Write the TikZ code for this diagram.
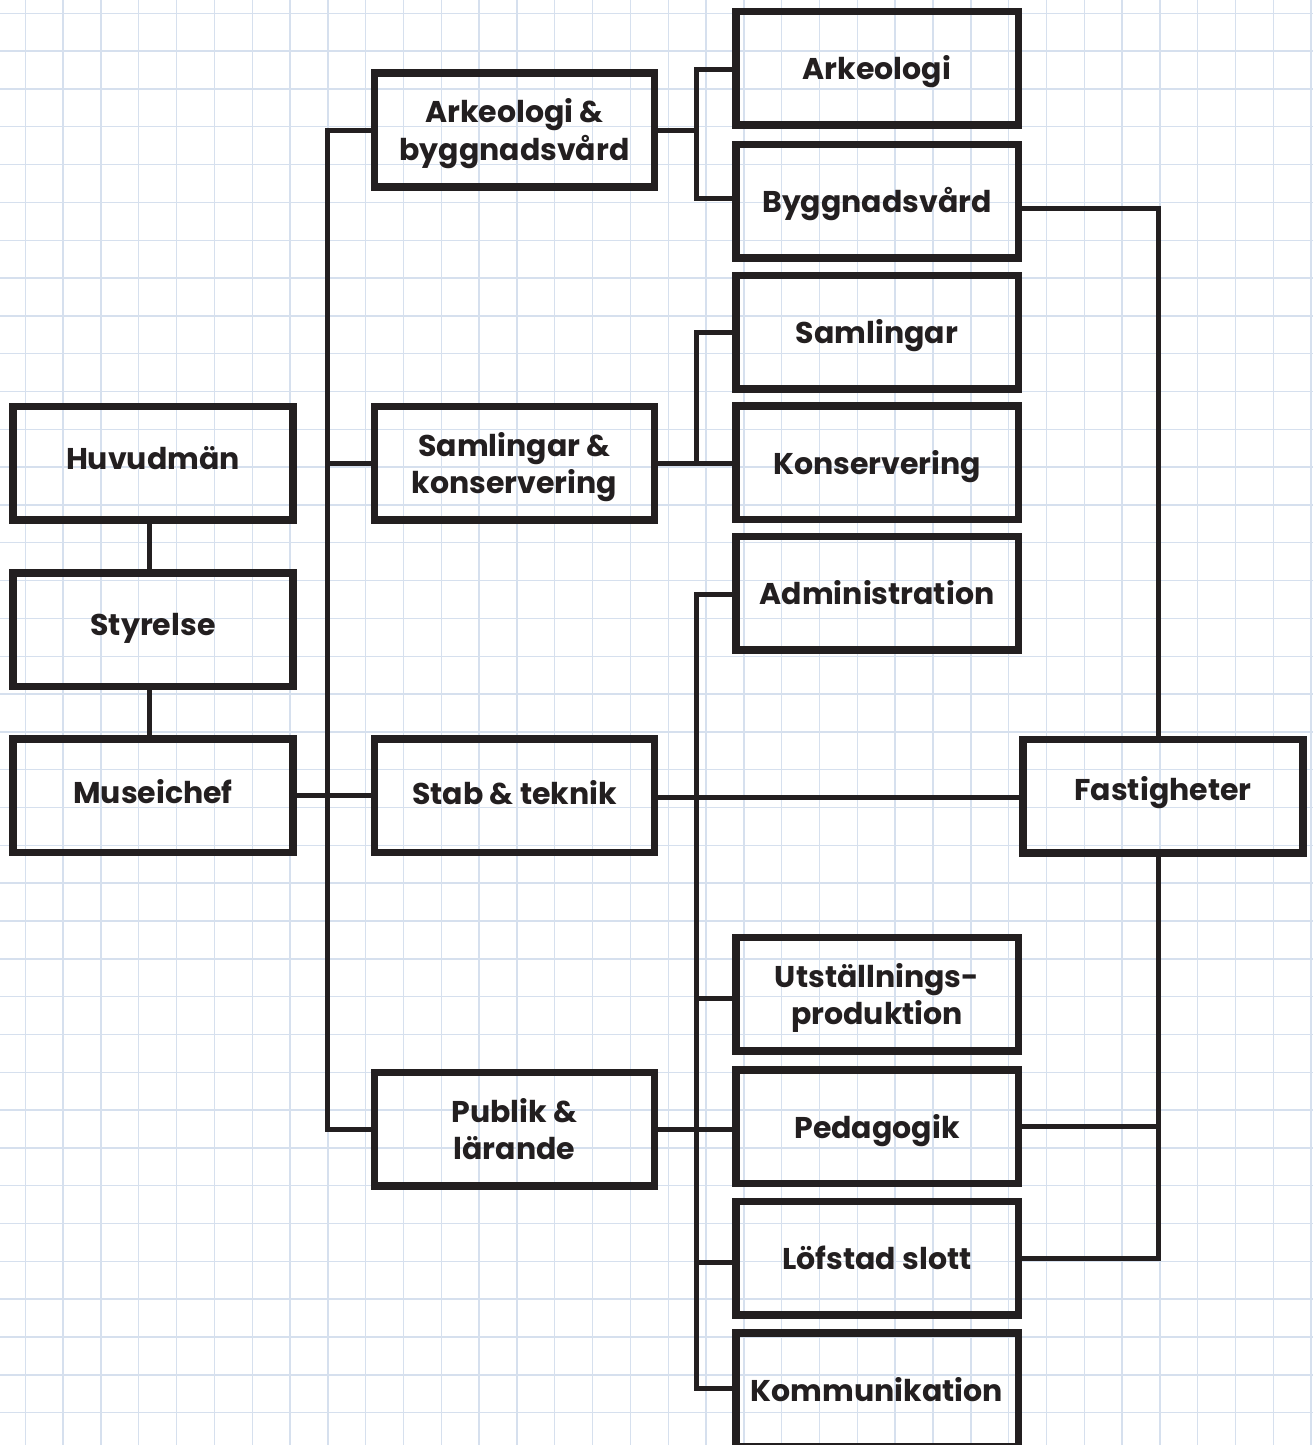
\documentclass[tikz,border=0pt]{standalone}
\usepackage{fontspec}
\setmainfont{Poppins}
\definecolor{ink}{RGB}{35,31,32}
\definecolor{gridc}{RGB}{214,224,238}
\tikzset{
  box/.style={draw=ink, line width=7.5pt, minimum width=280pt, minimum height=113.5pt,
    inner sep=0pt, text=ink, font=\fontsize{30}{37.6}\selectfont\bfseries,
    text height=23pt, text depth=0pt},
  box2/.style={box, align=center, text height=60.6pt, text depth=0pt},
  rbox/.style={box, minimum width=282.5pt},
  rbox2/.style={box2, minimum width=282.5pt},
  lift/.style={text depth=#1},
  conn/.style={draw=ink, line width=5pt},
  gridline/.style={draw=gridc, line width=1.4pt}
}
\begin{document}
\begin{tikzpicture}[x=1pt,y=-1pt]
\useasboundingbox (0,0) rectangle (1313,1445);
\clip (0,0) rectangle (1313,1445);
\fill[white] (0,0) rectangle (1313,1445);
% grid
\foreach \k in {0,...,34} \draw[gridline] ({25.3+37.82*\k},0) -- ({25.3+37.82*\k},1445);
\foreach \k in {0,...,37} \draw[gridline] (0,{13.3+37.82*\k}) -- (1313,{13.3+37.82*\k});
% trunk coordinates
\coordinate (t1) at (327.5,0);
\coordinate (t2) at (696.5,0);
\coordinate (t3) at (1158,0);
\coordinate (t0) at (149.2,0);
% left column
\node[box, lift=10pt] (huv) at (153,463.2) {Huvudmän};
\node[box, lift=12pt] (sty) at (153,629.5) {Styrelse};
\node[box, lift=8pt] (mus) at (153,795.5) {Museichef};
% middle column
\node[box2] (ab) at (514.5,130) {Arkeologi \&\\byggnadsvård};
\node[box2] (sk) at (514.5,463.3) {Samlingar \&\\konservering};
\node[box, lift=6pt] (stab) at (514.5,795.8) {Stab \& teknik};
\node[box2] (pl) at (514.5,1129.3) {Publik \&\\lärande};
% right column
\node[rbox] (ark) at (877,68.2) {Arkeologi};
\node[rbox] (byg) at (877,201.2) {Byggnadsvård};
\node[rbox] (sam) at (877,332.2) {Samlingar};
\node[rbox] (kon) at (877,462.8) {Konservering};
\node[rbox] (adm) at (877,593.3) {Administration};
\node[rbox2] (uts) at (877,994.3) {Utställnings-\\produktion};
\node[rbox] (ped) at (877,1126.9) {Pedagogik};
\node[rbox] (lof) at (877,1258.3) {Löfstad slott};
\node[rbox] (kom) at (877,1389.5) {Kommunikation};
\node[box, lift=14pt] (fas) at (1163,796) {Fastigheter};
% connectors
\draw[conn] (huv.south -| t0) -- (sty.north -| t0);
\draw[conn] (sty.south -| t0) -- (mus.north -| t0);
\draw[conn] (mus.east) -- (mus.east -| stab.west);
\draw[conn] (ab.west) -- (ab.west -| t1) -- (pl.west -| t1) -- (pl.west);
\draw[conn] (sk.west) -- (sk.west -| t1);
\draw[conn] (ab.east) -- (ab.east -| t2);
\draw[conn] ([yshift=-1.5pt]ark.west) -- ([yshift=-1.5pt]ark.west -| t2) -- ([yshift=2.5pt]byg.west -| t2) -- ([yshift=2.5pt]byg.west);
\draw[conn] (sk.east) -- (sk.east -| kon.west);
\draw[conn] (sam.west) -- (sam.west -| t2) -- (sk.east -| t2);
\draw[conn] ([yshift=-1.5pt]adm.west) -- ([yshift=-1.5pt]adm.west -| t2) -- ([yshift=1pt]kom.west -| t2) -- ([yshift=1pt]kom.west);
\draw[conn] ([yshift=-4pt]uts.west) -- ([yshift=-4pt]uts.west -| t2);
\draw[conn] ([yshift=-4.5pt]lof.west) -- ([yshift=-4.5pt]lof.west -| t2);
\draw[conn] (pl.east) -- (pl.east -| ped.west);
\draw[conn] ([yshift=-2pt]stab.east) -- ([yshift=-2pt]stab.east -| fas.west);
\draw[conn] ([yshift=-7.5pt]byg.east) -- ([yshift=-7.5pt]byg.east -| t3) -- (fas.north -| t3);
\draw[conn] (fas.south -| t3) -- (lof.east -| t3) -- (lof.east);
\draw[conn] (ped.east) -- (ped.east -| t3);
\end{tikzpicture}
\end{document}
